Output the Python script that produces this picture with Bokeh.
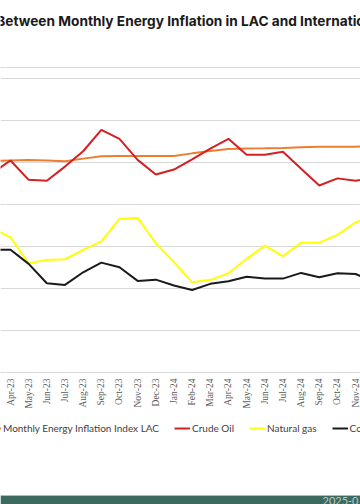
import math
from bokeh.plotting import figure
from bokeh.models import FixedTicker, Legend, LegendItem, Range1d, Label, BoxAnnotation
from bokeh.embed import file_html
from bokeh.resources import INLINE

# ---- data (y-axis values cropped, estimated scale) ----
months = ["Mar-23", "Apr-23", "May-23", "Jun-23", "Jul-23", "Aug-23", "Sep-23", "Oct-23",
          "Nov-23", "Dec-23", "Jan-24", "Feb-24", "Mar-24", "Apr-24", "May-24", "Jun-24",
          "Jul-24", "Aug-24", "Sep-24", "Oct-24", "Nov-24", "Dec-24"]
lac = [0.7, 0.9, 1.1, 0.9, 0.6, 1.8, 2.9, 3.1, 3.1, 3.1, 3.0, 4.3, 5.4, 6.4, 6.6, 6.7,
       6.9, 7.2, 7.4, 7.5, 7.5, 7.6]
crude_oil = [-5.1, 0.9, -8.3, -8.7, -2.0, 5.3, 15.5, 11.2, 1.2, -5.8, -3.4, 1.4, 6.6, 11.2,
             3.6, 3.6, 5.1, -3.0, -11.0, -7.6, -8.7, -7.2]
natural_gas = [-31.4, -35.7, -48.0, -46.4, -46.1, -41.6, -37.6, -26.9, -26.4, -38.5, -47.5,
               -57.1, -55.9, -52.8, -45.9, -39.6, -44.7, -38.2, -38.2, -34.5, -28.5, -25.8]
coal = [-41.6, -41.6, -48.3, -57.5, -58.3, -52.3, -47.7, -49.9, -56.4, -55.8, -58.6, -60.7,
        -57.8, -56.6, -54.4, -55.3, -55.3, -52.6, -54.7, -52.8, -53.1, -56.7]
y_grid_values = [-100, -80, -60, -40, -20, 0, 20, 40, 45.3]
axis_base = -100
series_names = ["Monthly Energy Inflation Index LAC", "Crude Oil", "Natural gas", "Coal"]
title_text = "Between Monthly Energy Inflation in LAC and Internatio"
footer_text = "2025-0"

xs = list(range(-1, len(months) - 1))
label_xs = xs[1:-1]
label_months = months[1:-1]

p = figure(width=360, height=504, output_backend="svg", toolbar_location=None,
           x_range=Range1d(-0.551, 19.27), y_range=Range1d(-162.83, 77.06),
           min_border_left=0, min_border_right=0, min_border_top=0, min_border_bottom=0)

p.outline_line_color = None
p.background_fill_color = "white"
p.border_fill_color = "white"
p.xaxis.visible = False
p.yaxis.visible = False
p.xgrid.visible = False
p.ygrid.ticker = FixedTicker(ticks=y_grid_values)
p.ygrid.grid_line_color = "#D9D9D9"
p.ygrid.grid_line_width = 1

colors = ["#ED7D31", "#D42020", "#FFFF00", "#1A1A1A"]
data = [lac, crude_oil, natural_gas, coal]
renderers = []
for ys, c in zip(data, colors):
    r = p.line(xs, ys, line_color=c, line_width=2)
    renderers.append(r)

# category labels along the baseline
p.text(x=label_xs, y=[axis_base] * len(label_xs), text=label_months, angle=math.pi / 2,
       text_align="right", text_baseline="middle", y_offset=6,
       text_font="Lato", text_font_size="9.5px", text_color="#595959")

title = Label(x=180, y=484, x_units="screen", y_units="screen", text=title_text,
              text_font="Inter", text_font_size="13.7px", text_font_style="bold",
              text_color="#1a1a1a", text_align="center", text_baseline="middle")
p.add_layout(title)

legend = Legend(items=[LegendItem(label=n, renderers=[r]) for n, r in zip(series_names, renderers)],
                orientation="horizontal", location=(-15, 70),
                glyph_width=16, glyph_height=12, label_standoff=2, spacing=15,
                padding=0, margin=0, border_line_color=None, background_fill_alpha=0,
                label_text_font="Lato", label_text_font_size="10px", label_text_color="#404040",
                label_height=12)
p.add_layout(legend, "center")

# bottom strip visible at the edge of the reference
p.add_layout(BoxAnnotation(bottom=0, top=9, bottom_units="screen", top_units="screen",
                           fill_color="#3C6A5E", fill_alpha=1, line_color="#C9D3D0",
                           line_width=1))
p.add_layout(Label(x=322, y=8, x_units="screen", y_units="screen", text=footer_text,
                   text_font="Lato", text_font_size="11px", text_color="#BFC8C4",
                   text_baseline="top"))

open("out.html", "w").write(file_html(p, INLINE))
